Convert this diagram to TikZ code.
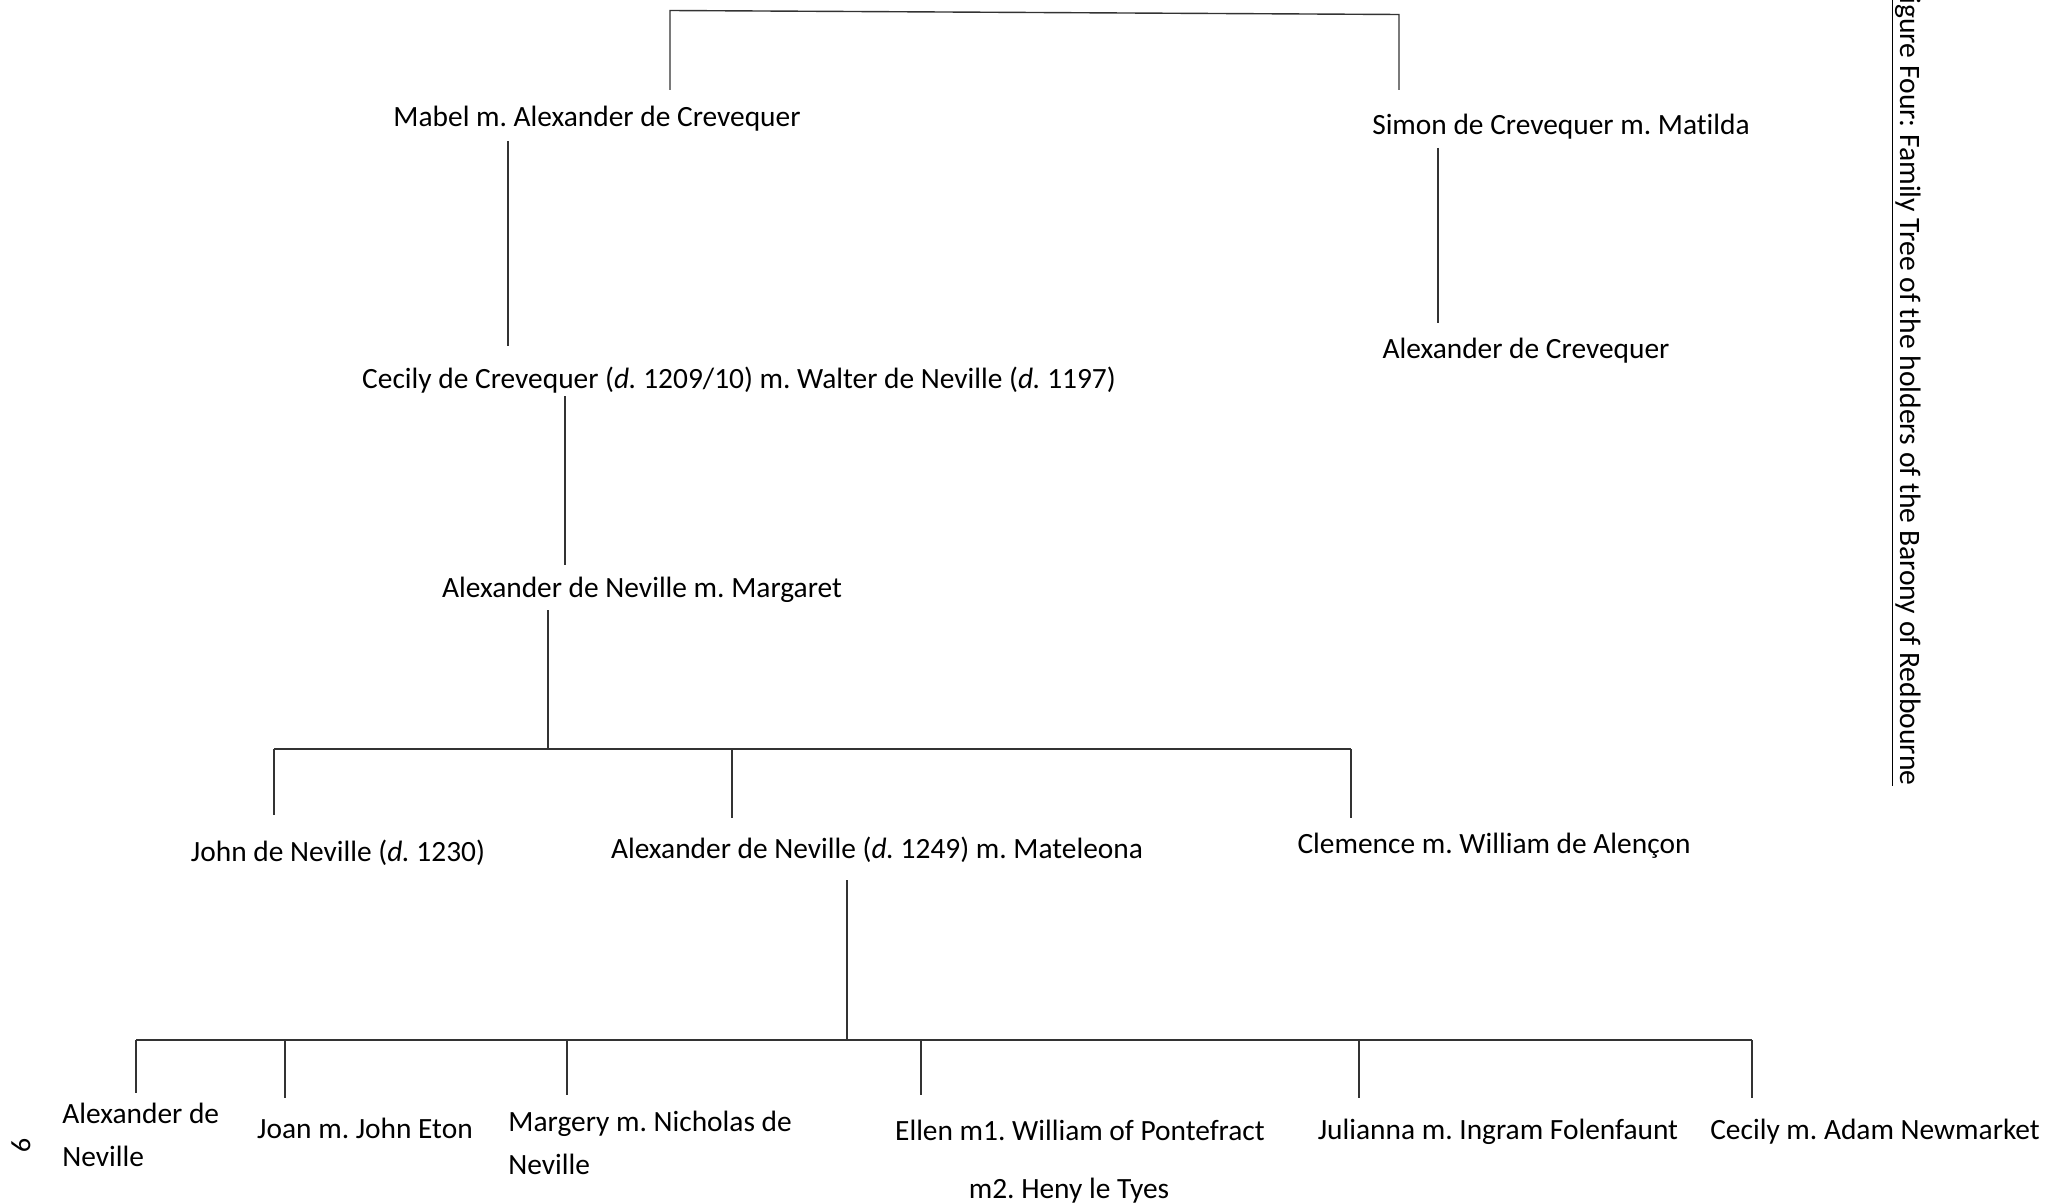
\documentclass[tikz,border=0pt]{standalone}
\usepackage{fontspec}
\setmainfont{Carlito}[Ligatures=NoCommon]
\frenchspacing
\begin{document}
\begin{tikzpicture}[x=0.5pt,y=-0.5pt,
  lbl/.style={inner sep=0pt, font=\fontsize{14.7}{21.5}\selectfont},
  link/.style={line width=0.7pt, draw=black!80}]
\useasboundingbox (0,0) rectangle (2069,1204);
% labels
\node[lbl] (mabel) at (597,119) {Mabel m. Alexander de Crevequer};
\node[lbl] (simon) at (1561,127) {Simon de Crevequer m. Matilda};
\node[lbl] (alexc) at (1526,351) {Alexander de Crevequer};
\node[lbl] (cecily) at (739,380) {Cecily de Crevequer (\textit{d.} 1209/10) m. Walter de Neville (\textit{d.} 1197)};
\node[lbl] (alexm) at (642,590) {Alexander de Neville m. Margaret};
\node[lbl] (john) at (338,853) {John de Neville (\textit{d.} 1230)};
\node[lbl] (alexma) at (877,850) {Alexander de Neville (\textit{d.} 1249) m. Mateleona};
\node[lbl] (clem) at (1494,846) {Clemence m. William de Alençon};
\node[lbl, anchor=west, align=left] (alexn) at (62,1135) {Alexander de\\Neville};
\node[lbl] (joan) at (365,1128) {Joan m. John Eton};
\node[lbl, anchor=west, align=left] (marg) at (508,1143) {Margery m. Nicholas de\\Neville};
\node[lbl, align=center] (ellen) at (1069,1162) {\hspace*{11pt}Ellen m1. William of Pontefract\\[7.5pt]m2. Heny le Tyes};
\node[lbl] (jul) at (1498,1132) {Julianna m. Ingram Folenfaunt};
\node[lbl] (cecm) at (1875,1132) {Cecily m. Adam Newmarket};
\node[lbl, rotate=-90] (pnum) at (21,1145) {9};
\node[lbl, font=\fontsize{14.8}{18}\selectfont, rotate=-90, anchor=base east] (title) at (1900,786) {\underline{Figure Four: Family Tree of the holders of the Barony of Redbourne}};
% top bracket
\coordinate (ta) at (670,90);
\coordinate (tb) at (670,10.5);
\coordinate (tc) at (1399,14.5);
\coordinate (td) at (1399,90);
\draw[link] (ta) -- (tb) -- (tc) -- (td);
% single descents
\coordinate (m1) at (508,141); \coordinate (m2) at (508,346);
\draw[link] (m1) -- (m2);
\coordinate (s1) at (1438,148); \coordinate (s2) at (1438,323);
\draw[link] (s1) -- (s2);
\coordinate (c1) at (565,396); \coordinate (c2) at (565,565);
\draw[link] (c1) -- (c2);
% Alexander & Margaret children
\coordinate (g1) at (548,610); \coordinate (g2) at (548,749);
\draw[link] (g1) -- (g2);
\coordinate (hl) at (274,749); \coordinate (hr) at (1351,749);
\draw[link] (hl) -- (hr);
\coordinate (j1) at (274,815); \coordinate (a1) at (732,749); \coordinate (a2) at (732,818);
\coordinate (k1) at (1351,818);
\draw[link] (hl) -- (j1);
\draw[link] (a1) -- (a2);
\draw[link] (hr) -- (k1);
% Alexander & Mateleona children
\coordinate (n1) at (847,880); \coordinate (n2) at (847,1040);
\draw[link] (n1) -- (n2);
\coordinate (bl) at (136,1040); \coordinate (br) at (1752,1040);
\draw[link] (bl) -- (br);
\foreach \x/\y in {136/1093,285/1098,567/1095,921/1095,1359/1098,1752/1098}{
  \draw[link] (\x,1040) -- (\x,\y);
}
\end{tikzpicture}
\end{document}
